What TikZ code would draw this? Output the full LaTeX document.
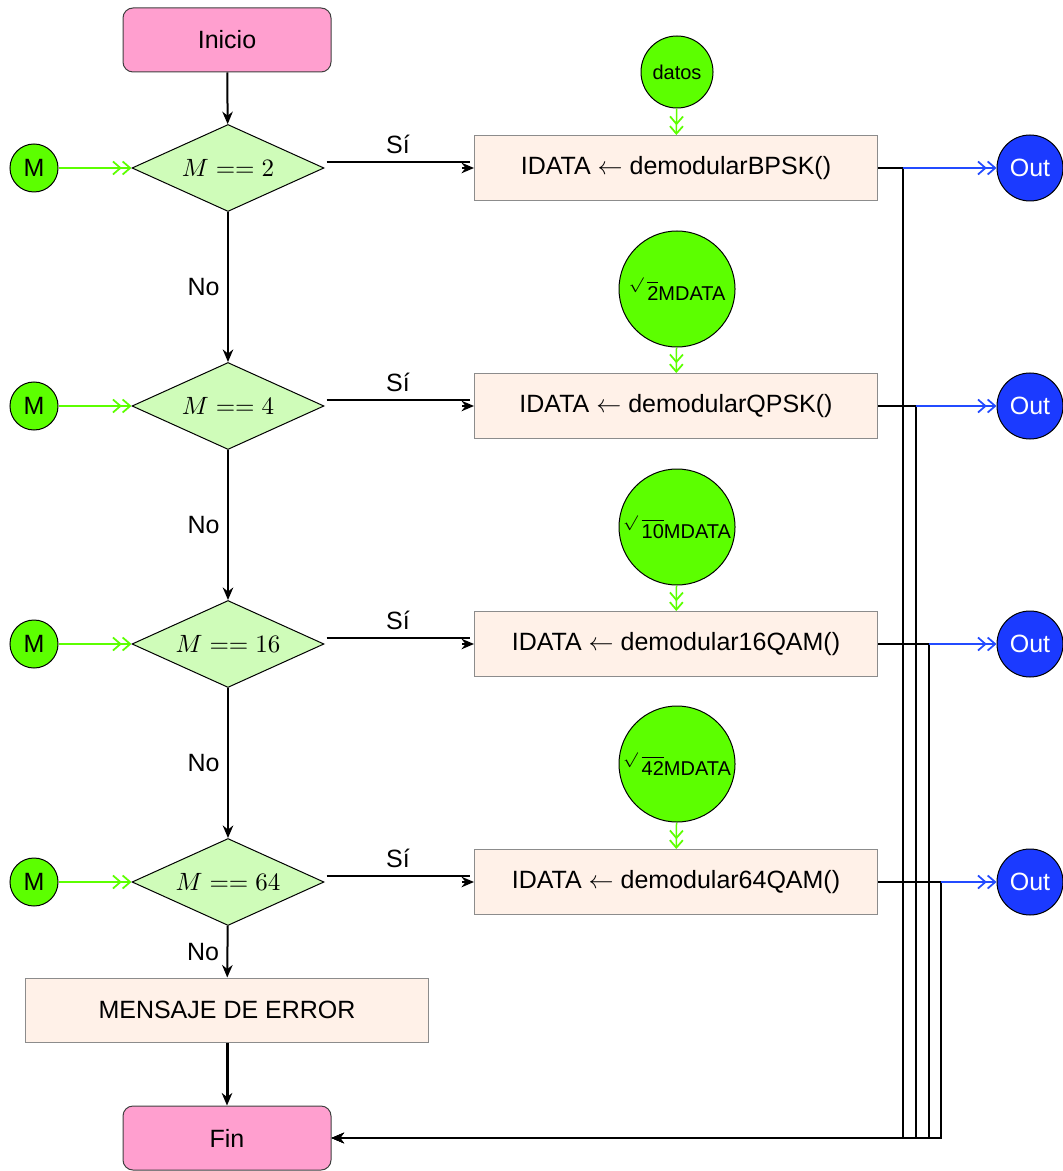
\documentclass[tikz,border=0pt]{standalone}
\usepackage{fontspec}
\setmainfont{Liberation Sans}
\usetikzlibrary{shapes.geometric,arrows.meta,calc}

\definecolor{termfill}{RGB}{255,159,207}
\definecolor{decfill}{RGB}{207,252,185}
\definecolor{procfill}{RGB}{255,241,232}
\definecolor{srcgreen}{RGB}{92,255,0}
\definecolor{sinkblue}{RGB}{27,58,255}
\definecolor{outblue}{RGB}{35,75,255}

% scaled square root in front of the sample label
\newcommand{\rootlabel}[1]{\raisebox{0.55em}{$\scriptstyle\surd$}\hspace{1.5pt}$\overline{\mbox{#1}}$MDATA}

\begin{document}
\begin{tikzpicture}[x=0.4pt,y=-0.4pt,
  term/.style={draw=black!75, fill=termfill, rounded corners=4pt,
    minimum width=83.2pt, minimum height=25.6pt, inner sep=0pt, line width=0.4pt},
  decision/.style={diamond, draw, fill=decfill, aspect=2.2,
    minimum width=76.8pt, minimum height=34.8pt, inner sep=0pt, line width=0.4pt},
  proc/.style={draw=black!45, fill=procfill, minimum width=161.2pt,
    minimum height=26pt, inner sep=0pt, line width=0.4pt},
  src/.style={circle, draw, fill=srcgreen, inner sep=0pt, line width=0.4pt},
  sink/.style={circle, draw, fill=sinkblue, text=white, minimum size=26.4pt,
    inner sep=0pt, line width=0.4pt},
  flow/.style={line width=0.8pt, -{Stealth[length=5pt,width=4.2pt,inset=1.6pt]}},
  barbs/.style={-{Straight Barb[length=3pt,width=5.2pt,line width=0.7pt]
                  Straight Barb[length=3pt,width=5.2pt,line width=0.7pt]}},
  feed/.style={srcgreen, line width=0.6pt, barbs},
  outlink/.style={outblue, line width=0.6pt, barbs},
  lbl/.style={inner sep=3pt}
]
\useasboundingbox (0,0) rectangle (1063,1171);

% start and end
\node[term] (ini) at (227,40) {Inicio};
\node[term] (fin) at (227,1138) {Fin};

% decisions on the modulation order
\node[decision] (d1) at (228,168) {$M == 2$};
\node[decision] (d2) at (228,406) {$M == 4$};
\node[decision] (d3) at (228,644) {$M == 16$};
\node[decision] (d4) at (228,882) {$M == 64$};

% order inputs
\node[src, minimum size=19.2pt] (m1) at (34,168) {M};
\node[src, minimum size=19.2pt] (m2) at (34,406) {M};
\node[src, minimum size=19.2pt] (m3) at (34,644) {M};
\node[src, minimum size=19.2pt] (m4) at (34,882) {M};

% demodulators
\node[proc] (b1) at (676,168) {IDATA $\leftarrow$ demodularBPSK()};
\node[proc] (b2) at (676,406) {IDATA $\leftarrow$ demodularQPSK()};
\node[proc] (b3) at (676,644) {IDATA $\leftarrow$ demodular16QAM()};
\node[proc] (b4) at (676,882) {IDATA $\leftarrow$ demodular64QAM()};
\node[proc, minimum width=160.8pt, minimum height=25.6pt] (err) at (227,1010) {MENSAJE DE ERROR};

% data inputs
\node[src, minimum size=28.8pt, font=\footnotesize] (s1) at (677,72) {datos};
\node[src, minimum size=46.4pt, font=\footnotesize] (s2) at (677,289) {\rootlabel{2}};
\node[src, minimum size=46.4pt, font=\footnotesize] (s3) at (677,527) {\rootlabel{10}};
\node[src, minimum size=46.4pt, font=\footnotesize] (s4) at (677,764) {\rootlabel{42}};

% outputs
\node[sink] (o1) at (1030,168) {Out};
\node[sink] (o2) at (1030,406) {Out};
\node[sink] (o3) at (1030,644) {Out};
\node[sink] (o4) at (1030,882) {Out};

% main flow
\draw[flow] (ini) -- (d1);
\draw[flow] (d1) -- node[lbl, left] {No} (d2);
\draw[flow] (d2) -- node[lbl, left] {No} (d3);
\draw[flow] (d3) -- node[lbl, left] {No} (d4);
\draw[flow] (d4) -- node[lbl, left] {No} (err);
\draw[flow, line width=1.2pt] (err) -- (fin);

% yes branches
\foreach \i in {1,...,4}{
  \draw[flow] ($(d\i.east)+(2,-6)$) -- node[lbl, above] {Sí} ++(143,0)
              ($(b\i.west)+(-12,0)$) -- (b\i.west);
  \draw[feed] (m\i) -- (d\i);
  \draw[feed] (s\i) -- (b\i);
}

% collectors to the end node
\draw[flow] (b1.east) -- ++(25,0) coordinate (j1) |- (fin.east);
\draw[flow] (b2.east) -- ++(38,0) coordinate (j2) |- (fin.east);
\draw[flow] (b3.east) -- ++(51,0) coordinate (j3) |- (fin.east);
\draw[flow] (b4.east) -- ++(63,0) coordinate (j4) |- (fin.east);
\foreach \i in {1,...,4}{
  \draw[outlink] (j\i) -- (o\i);
}
\end{tikzpicture}
\end{document}
